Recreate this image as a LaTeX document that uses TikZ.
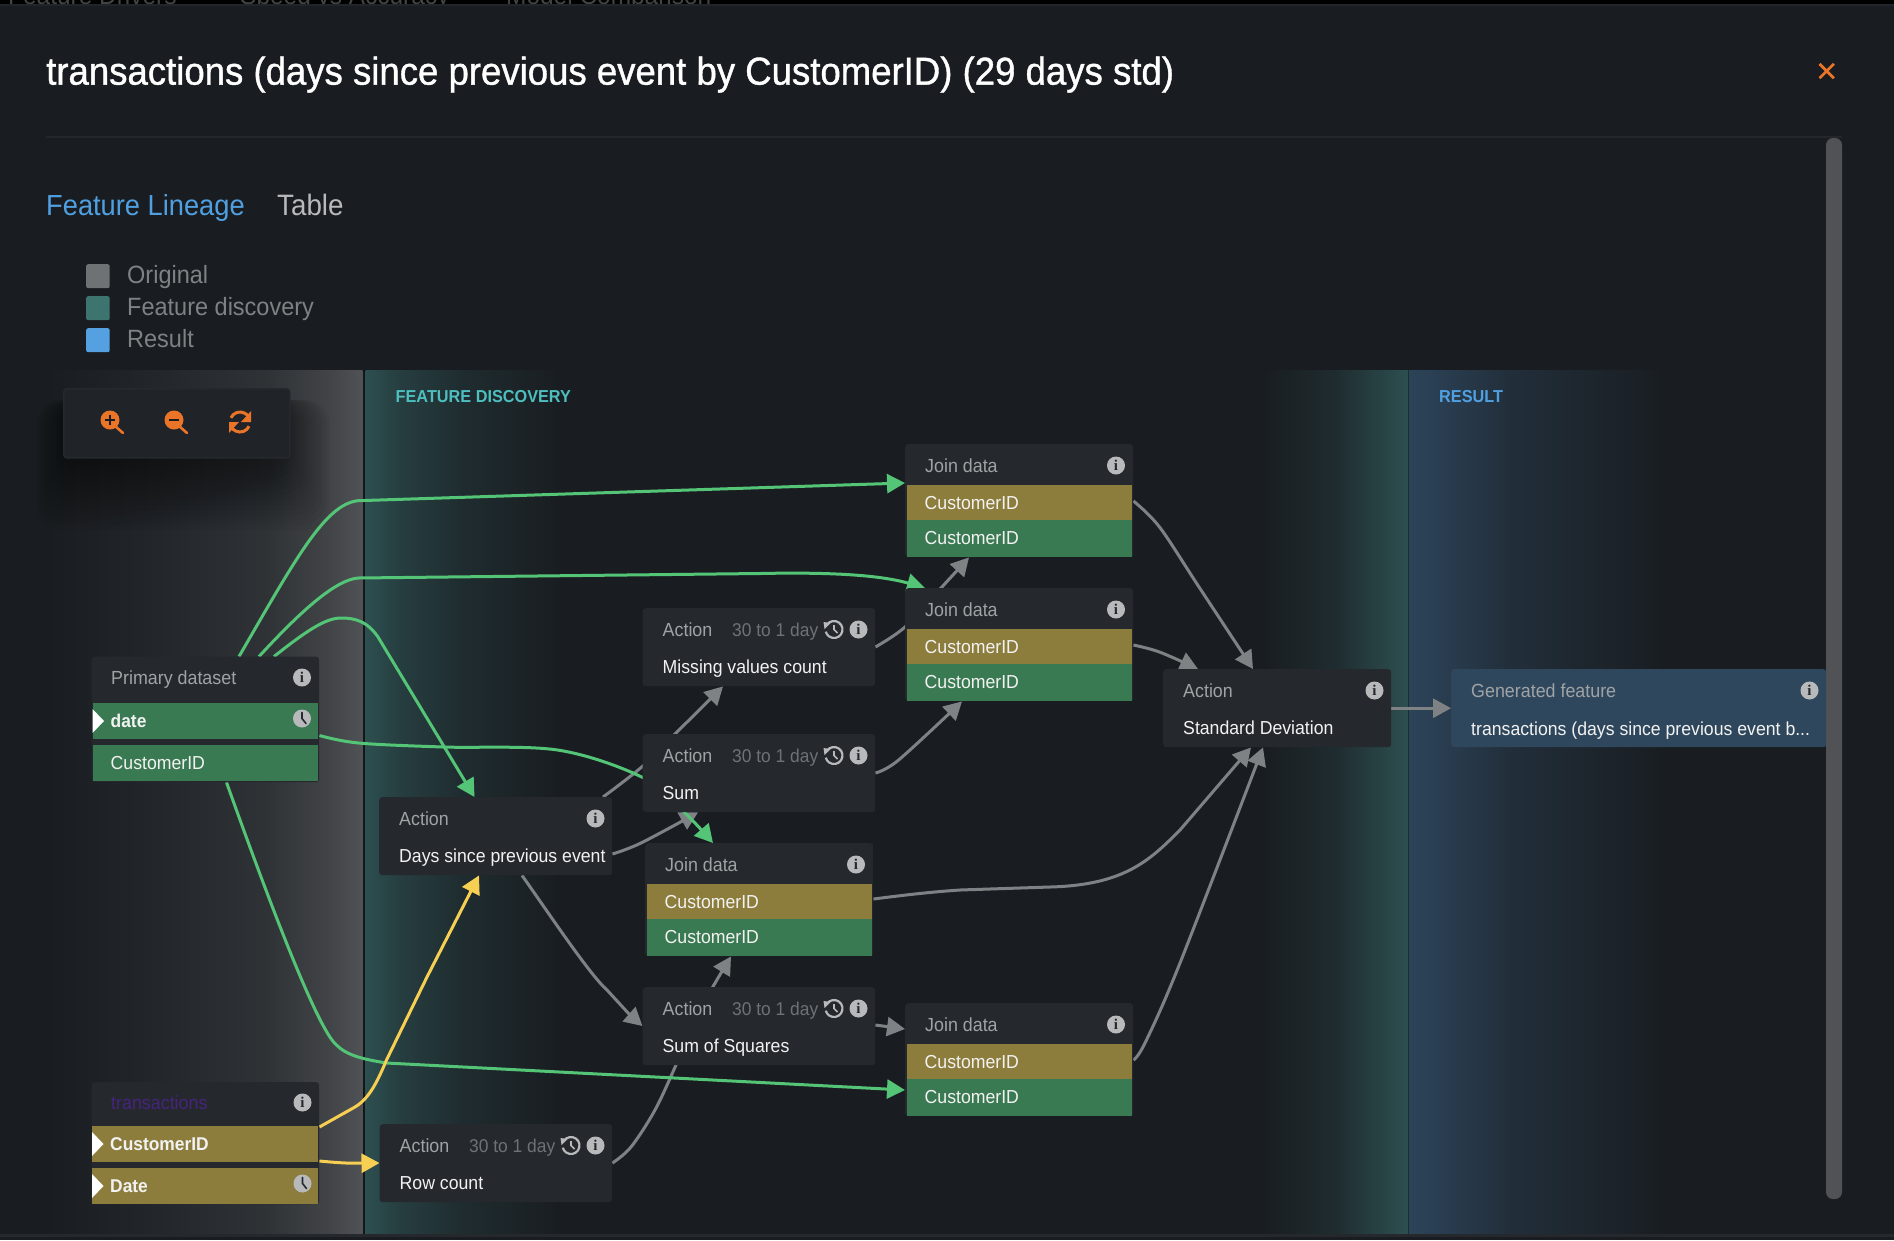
\documentclass[tikz,border=0pt]{standalone}
\usepackage{fontspec}
\setmainfont{Liberation Sans}[FakeStretch=0.94]
\newfontfamily\titlefont{Liberation Sans}[FakeStretch=0.94,FakeBold=1.0]
\newfontfamily\iconfont{Liberation Serif}
\usetikzlibrary{arrows.meta}
\definecolor{bgc}{HTML}{191D21}
\definecolor{nodec}{HTML}{25292D}
\definecolor{olivec}{HTML}{8D7D3D}
\definecolor{greenr}{HTML}{3A7A52}
\definecolor{bluen}{HTML}{2F475C}
\definecolor{gedgec}{HTML}{54C576}
\definecolor{yedgec}{HTML}{F7CF52}
\definecolor{nedgec}{HTML}{7F8285}
\definecolor{hdrc}{HTML}{A0A3A6}
\definecolor{mainc}{HTML}{F2F2F2}
\definecolor{rangec}{HTML}{6F7275}
\definecolor{orangec}{HTML}{EA7428}
\definecolor{iconc}{HTML}{B7B9BB}
\definecolor{tealp}{HTML}{2D4F50}
\definecolor{bluep}{HTML}{2C4358}
\definecolor{grayp}{HTML}{505255}
\definecolor{tabblue}{HTML}{50A0E1}
\definecolor{legteal}{HTML}{3D7470}
\definecolor{legblue}{HTML}{55A0E0}
\definecolor{secteal}{HTML}{4EBEBE}
\definecolor{tranc}{HTML}{46237D}
\pgfdeclarelayer{panels}
\pgfdeclarelayer{edges}
\pgfsetlayers{panels,edges,main}
\pgfdeclarehorizontalshading{grayshade}{100bp}{color(0bp)=(bgc); color(25bp)=(bgc); color(40bp)=(bgc!85!grayp); color(60bp)=(bgc!60!grayp); color(70bp)=(bgc!25!grayp); color(75bp)=(grayp); color(100bp)=(grayp)}
\pgfdeclarehorizontalshading{tealL}{100bp}{color(0bp)=(tealp); color(25bp)=(tealp); color(34bp)=(bgc!35!tealp); color(50bp)=(bgc!70!tealp); color(75bp)=(bgc); color(100bp)=(bgc)}
\pgfdeclarehorizontalshading{tealR}{100bp}{color(0bp)=(bgc); color(25bp)=(bgc); color(50bp)=(bgc!70!tealp); color(62bp)=(bgc!35!tealp); color(75bp)=(tealp); color(100bp)=(tealp)}
\pgfdeclarehorizontalshading{blueL}{100bp}{color(0bp)=(bluep); color(25bp)=(bluep); color(30bp)=(bgc!10!bluep); color(45bp)=(bgc!55!bluep); color(75bp)=(bgc); color(100bp)=(bgc)}
\tikzset{
  basebox/.style={draw=none,fill=nodec,rounded corners=3pt,anchor=north west,inner sep=0pt},
  rowbox/.style={draw=none,anchor=north west,inner xsep=18pt,inner ysep=0pt,text=mainc,align=left,font=\fontsize{18.8}{22}\selectfont},
  hdr/.style={text=hdrc,anchor=mid west,inner sep=0pt,yshift=-4.5pt,font=\fontsize{19}{22}\selectfont},
  mainlab/.style={text=mainc,anchor=mid west,inner sep=0pt,yshift=-4.5pt,font=\fontsize{18.8}{22}\selectfont},
  rangelab/.style={text=rangec,anchor=mid west,inner sep=0pt,yshift=-4.5pt,font=\fontsize{18.5}{22}\selectfont},
  infoic/.style={circle,fill=iconc,text=nodec,inner sep=0pt,minimum size=18pt,font=\fontsize{15}{15}\iconfont\bfseries},
  clockic/.style={circle,fill=iconc,inner sep=0pt,minimum size=18pt},
  edgebase/.style={line width=3pt,-{Triangle[length=18pt,width=19pt]}},
  nedge/.style={edgebase,draw=nedgec},
  gedge/.style={edgebase,draw=gedgec},
  yedge/.style={edgebase,draw=yedgec},
  sm/.style={smooth,tension=0.55},
  legsq/.style={rounded corners=2pt,minimum width=23.5pt,minimum height=24pt,inner sep=0pt,anchor=north west},
  leglab/.style={text=hdrc!75!bgc,anchor=mid west,inner sep=0pt,yshift=-6pt,font=\fontsize{25}{28}\selectfont},
  seclab/.style={anchor=mid west,inner sep=0pt,yshift=-4.5pt,font=\fontsize{17.3}{20}\bfseries\selectfont},
  toolln/.style={orangec,line width=2.6pt}
}
% name x y w h
\newcommand\plainbox[5]{\node[basebox,minimum width=#4pt,minimum height=#5pt] (#1) at (#2,#3) {};}
\newcommand\iinfo[3]{\node[infoic] (#1) at (#2,#3) {i};}
\newcommand\cclock[3]{\node[clockic] (#1) at (#2,#3) {};
  \draw[nodec,line width=1.6pt,line cap=round] ([yshift=6pt]#1.center) -- (#1.center) -- ([xshift=4pt,yshift=-5pt]#1.center);}
\newcommand\hist[3]{\coordinate (#1) at (#2,#3);
  \draw[iconc,line width=2.2pt] (#1) ++(145:8.5pt) arc[start angle=145,end angle=-165,radius=8.5pt];
  \fill[iconc] (#1) ++(-10.5pt,7.5pt) -- ++(7pt,-1pt) -- ++(-6pt,-6pt) -- cycle;
  \draw[iconc,line width=1.6pt] ([yshift=4.5pt]#1) -- (#1) -- ([xshift=3.5pt,yshift=-3.5pt]#1);}
% action box: name x y w header main ; info at right
\newcommand\actbox[7]{\plainbox{#1}{#2}{#3}{#4}{78}
  \node[hdr] (#1h) at (#2+20,#3+21) {#5};
  \node[mainlab] (#1m) at (#2+20,#3+58.5) {#6};
  \iinfo{#1i}{#2+#4-16.5}{#3+21.5}
  #7}
\newcommand\rangebits[3]{% name x y
  \node[rangelab] (#1r) at (#2+89.5,#3+21) {30 to 1 day};
  \hist{#1t}{#2+191.5}{#3+21.5}}
\newcommand\joinbox[4]{% name x y w
  \plainbox{#1}{#2}{#3}{#4}{113}
  \node[hdr] (#1h) at (#2+20,#3+21) {Join data};
  \iinfo{#1i}{#2+#4-17}{#3+21.5}
  \node[rowbox,fill=olivec,minimum height=35.5pt,text width=#4pt-39pt] (#1a) at (#2+1.5,#3+41) {CustomerID};
  \node[rowbox,fill=greenr,minimum height=36.5pt,text width=#4pt-39pt] (#1b) at (#2+1.5,#3+76) {CustomerID};}
\newcommand\whitetri[2]{\fill[white] (#1,#2-12) -- (#1+11.5,#2) -- (#1,#2+12) -- cycle;}
\begin{document}
\begin{tikzpicture}[x=1pt,y=-1pt]
\useasboundingbox (0,0) rectangle (1894,1240);
\begin{pgfonlayer}{panels}
\fill[bgc] (0,0) rectangle (1894,1240);
% top strip
\fill[black] (0,0) rectangle (1894,4);
\begin{scope}
\clip (0,0) rectangle (1894,4);
\node[anchor=base west,inner sep=0pt,text=rangec!60!black,font=\fontsize{26}{28}\selectfont] (tabX) at (8,4) {Feature Drivers};
\node[anchor=base west,inner sep=0pt,text=rangec!60!black,font=\fontsize{26}{28}\selectfont] (tabY) at (240,4) {Speed vs Accuracy};
\node[anchor=base west,inner sep=0pt,text=rangec!60!black,font=\fontsize{26}{28}\selectfont] (tabZ) at (506,4) {Model Comparison};
\end{scope}
\fill[nodec!70!bgc] (0,4) rectangle (1894,6);
% panels
\shade[shading=grayshade] (46,370) rectangle (362.5,1234);
\fill[nodec!55!black] (362.5,370) rectangle (365.5,1234);
\shade[shading=tealL] (365.5,370) rectangle (560,1234);
\shade[shading=tealR] (1263,370) rectangle (1408,1234);
\fill[tealp!60!black] (1407.5,370) rectangle (1409,1234);
\shade[shading=blueL] (1409,370) rectangle (1665,1234);
\fill[nodec] (0,1234) rectangle (1894,1237);
% title rule
\fill[nodec!80!bgc] (46,136) rectangle (1842,138);
% scrollbar
\fill[grayp,rounded corners=7pt] (1826,138) rectangle (1842,1199);
% toolbox shadow
\foreach \i in {0,...,17}
  \fill[black,opacity=0.035,rounded corners=24pt] (70-2*\i,400) rectangle (270+3.5*\i,445+5*\i);
\end{pgfonlayer}

% heading
\node[anchor=mid west,inner sep=0pt,text=white,yshift=-10pt,font=\fontsize{38.9}{44}\titlefont] (title) at (46,72) {transactions (days since previous event by CustomerID) (29 days std)};
\coordinate (closex) at (1826.7,71);
\draw[orangec,line width=2.8pt] ([xshift=-7.2pt,yshift=-7.2pt]closex) -- ([xshift=7.2pt,yshift=7.2pt]closex) ([xshift=-7.2pt,yshift=7.2pt]closex) -- ([xshift=7.2pt,yshift=-7.2pt]closex);
\node[anchor=mid west,inner sep=0pt,text=tabblue,yshift=-7pt,font=\fontsize{29}{32}\selectfont] (tabA) at (46,206) {Feature Lineage};
\node[anchor=mid west,inner sep=0pt,text=iconc,yshift=-7pt,font=\fontsize{29.5}{32}\selectfont] (tabB) at (277,206) {Table};
% legend
\node[legsq,fill=rangec] (l1) at (86,264) {};
\node[legsq,fill=legteal] (l2) at (86,296) {};
\node[legsq,fill=legblue] (l3) at (86,328) {};
\node[leglab] (l1t) at (127,275) {Original};
\node[leglab] (l2t) at (127,307) {Feature discovery};
\node[leglab] (l3t) at (127,339) {Result};
% section labels
\node[seclab,text=secteal] (secF) at (395.5,395) {FEATURE DISCOVERY};
\node[seclab,text=tabblue] (secR) at (1439,395) {RESULT};
% toolbox
\node[basebox,draw=nodec,line width=1.5pt,fill=bgc!97!white,minimum width=226pt,minimum height=69pt] (toolbox) at (63,388) {};
\foreach \cx/\n in {110/zin,174/zout}{
  \node[circle,fill=orangec,minimum size=19pt,inner sep=0pt] (\n) at (\cx,420) {};
  \draw[toolln,line cap=round] (\n.center) ++(5pt,-6pt) -- ++(8pt,-7pt);
}
\draw[bgc,line width=2.2pt] ([xshift=-5pt]zin.center) -- ([xshift=5pt]zin.center) ([yshift=-5pt]zin.center) -- ([yshift=5pt]zin.center);
\draw[bgc,line width=2.2pt] ([xshift=-5pt]zout.center) -- ([xshift=5pt]zout.center);
\coordinate (zreset) at (240,422);
\draw[toolln,line width=3pt] (zreset) ++(155:10pt) arc[start angle=155,end angle=30,radius=10pt];
\draw[toolln,line width=3pt] (zreset) ++(-25:10pt) arc[start angle=-25,end angle=-150,radius=10pt];
\fill[orangec] ([xshift=11pt,yshift=11pt]zreset) -- ([xshift=11pt,yshift=0pt]zreset) -- ([xshift=1pt,yshift=0pt]zreset) -- cycle;
\fill[orangec] ([xshift=-11pt,yshift=-11pt]zreset) -- ([xshift=-11pt,yshift=0pt]zreset) -- ([xshift=-1pt,yshift=0pt]zreset) -- cycle;

% Primary dataset
\plainbox{prim}{91.5}{656.5}{227.5}{125.5}
\node[hdr] (primh) at (111,677.5) {Primary dataset};
\iinfo{primi}{302}{677.5}
\node[rowbox,fill=greenr,minimum height=36pt,text width=189pt,font=\fontsize{18.5}{22}\bfseries\selectfont] (pdate) at (92.5,703) {date};
\cclock{pclock}{302}{718.5}
\node[rowbox,fill=greenr,minimum height=36pt,text width=189pt] (pcust) at (92.5,745) {CustomerID};
\whitetri{92.5}{721}
% transactions
\plainbox{tran}{91.5}{1082}{227.5}{122}
\node[hdr,text=tranc] (tranh) at (111,1102) {transactions};
\iinfo{trani}{302.5}{1102.5}
\node[rowbox,fill=olivec,minimum height=36pt,text width=189.5pt,font=\fontsize{18.5}{22}\bfseries\selectfont] (tcust) at (92,1126) {CustomerID};
\node[rowbox,fill=olivec,minimum height=36pt,text width=189.5pt,font=\fontsize{18.5}{22}\bfseries\selectfont] (tdate) at (92,1168) {Date};
\cclock{tclock}{302.5}{1183.5}
\whitetri{92}{1144}
\whitetri{92}{1186}

% action boxes
\actbox{days}{379}{797}{233}{Action}{Days since previous event}{}
\actbox{rowc}{379.5}{1124}{232.5}{Action}{Row count}{\rangebits{rowc}{379.5}{1124}}
\actbox{miss}{642.5}{608}{232.5}{Action}{Missing values count}{\rangebits{miss}{642.5}{608}}
\actbox{sumn}{642.5}{734}{232.5}{Action}{Sum}{\rangebits{sumn}{642.5}{734}}
\actbox{sqrs}{642.5}{987}{232.5}{Action}{Sum of Squares}{\rangebits{sqrs}{642.5}{987}}
\actbox{stdv}{1163}{669}{228}{Action}{Standard Deviation}{}
% generated
\node[basebox,fill=bluen,minimum width=375pt,minimum height=78pt] (gen) at (1451,669) {};
\node[hdr] (genh) at (1471,690) {Generated feature};
\node[mainlab] (genm) at (1471,728) {transactions (days since previous event b...};
\iinfo{geni}{1809.5}{690.5}
% joins
\joinbox{jone}{905}{444}{228}
\joinbox{jtwo}{905}{588}{228}
\joinbox{jthr}{645}{843}{228}
\joinbox{jfou}{905}{1003}{228}

\begin{pgfonlayer}{edges}
% gray edges
\draw[nedge] plot[sm] coordinates {([yshift=-39pt]rowc.north east) (631,1147) (655,1110) (676,1065) (700,1010) ([xshift=86pt]jthr.south west)};
\draw[nedge] ([xshift=143pt]days.south west) .. controls (550,915) and (590,975) .. (607,990) .. controls (618,1002) and (630,1015) .. ([yshift=-39pt]sqrs.north west);
\draw[nedge] plot[sm] coordinates {([yshift=-57pt]days.north east) (641,843) ([xshift=55.5pt]sumn.south west)};
\draw[nedge] plot[sm] coordinates {([xshift=224pt]days.north west) (641.7,767) (675,734) ([xshift=80.5pt]miss.south west)};
\draw[nedge] plot[sm] coordinates {([yshift=-39pt]miss.north east) (905,627) (941,588) ([xshift=64pt]jone.south west)};
\draw[nedge] plot[sm] coordinates {([yshift=-39pt]sumn.north east) (898.6,760) ([xshift=57pt]jtwo.south west)};
\draw[nedge] plot[sm] coordinates {([yshift=-57pt]jone.north east) (1159.5,527) (1199,587) ([xshift=90pt]stdv.north west)};
\draw[nedge] plot[sm] coordinates {([yshift=-57pt]jtwo.north east) (1159.5,652) ([xshift=35pt]stdv.north west)};
\draw[nedge] ([yshift=-56pt]jthr.north east) .. controls (905,895) and (930,892) .. (960,890) -- (1050,887) .. controls (1125,885) and (1150,860) .. (1180,830) -- ([xshift=88pt]stdv.south west);
\draw[nedge] plot[sm] coordinates {([yshift=-57pt]jfou.north east) (1145,1043) (1180,963) ([xshift=100pt]stdv.south west)};
\draw[nedge] (stdv.east) -- (gen.west);
\draw[nedge] ([yshift=-38pt]sqrs.north east) -- ([yshift=-26pt]jfou.north west);
% green edges
\draw[gedge] ([xshift=147.5pt]prim.north west) .. controls (295,560) and (325,504) .. (358,500.7) -- ([yshift=-39pt]jone.north west);
\draw[gedge] ([xshift=167.5pt]prim.north west) .. controls (300,612) and (335,580) .. (358,578) -- (760,573.5) .. controls (830,572) and (880,575) .. ([xshift=20pt]jtwo.north west);
\draw[gedge] ([xshift=182.5pt]prim.north west) .. controls (305,632) and (325,618) .. (341,618) .. controls (355,618) and (367,621) .. (378,637) -- ([xshift=95.5pt]days.north west);
\draw[gedge] plot[sm] coordinates {([yshift=-79pt]prim.north east) (358.5,743) (443,747) (557.5,750) (641.7,777) (684,812) ([xshift=68pt]jthr.north west)};
\draw[gedge] ([xshift=135pt]prim.south west) .. controls (265,890) and (310,1010) .. (332,1040) .. controls (342,1053) and (355,1058) .. (386.5,1063) -- ([yshift=-87pt]jfou.north west);
% yellow edges
\draw[yedge] ([yshift=-45pt]tran.north east) -- (355,1107) .. controls (370,1098) and (378,1080) .. (386.5,1060) -- (427,977) -- ([xshift=100pt]days.south west);
\draw[yedge] plot[sm] coordinates {([yshift=-79pt]tran.north east) (346,1163) ([yshift=-39pt]rowc.north west)};
\end{pgfonlayer}
\end{tikzpicture}
\end{document}
